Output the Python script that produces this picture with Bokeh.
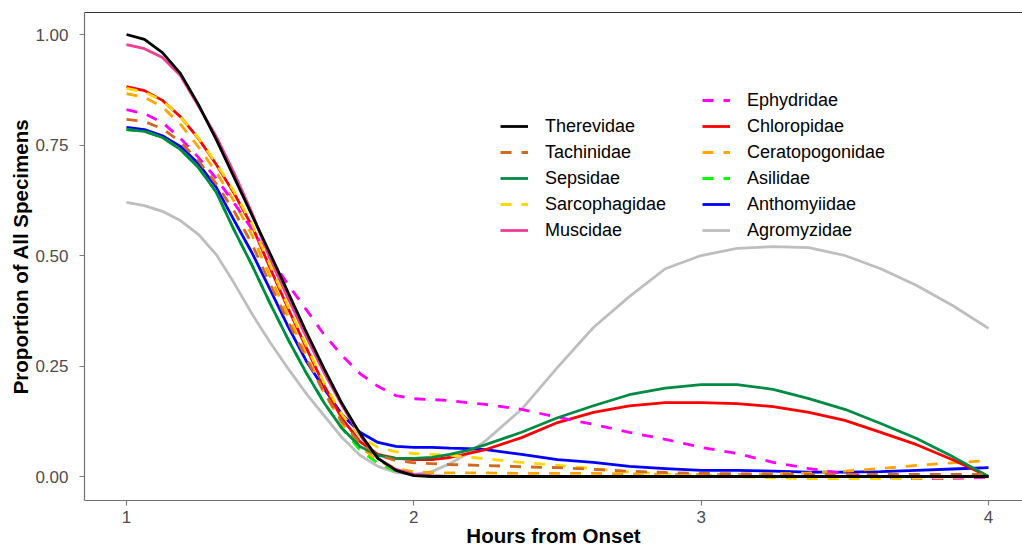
from bokeh.plotting import figure
from bokeh.models import Range1d, Legend, LegendItem, FixedTicker, LinearAxis
from bokeh.embed import file_html
from bokeh.resources import INLINE

# ---- data (hours vs proportion) ----
hours = [1.0, 1.0625, 1.125, 1.1875, 1.25, 1.3125, 1.375, 1.4375, 1.5, 1.5625,
         1.625, 1.6875, 1.75, 1.8125, 1.875, 1.9375, 2.0, 2.0625, 2.125, 2.1875,
         2.25, 2.375, 2.5, 2.625, 2.75, 2.875, 3.0, 3.125, 3.25, 3.375,
         3.5, 3.625, 3.75, 3.875, 4.0]

agromyzidae = [0.620, 0.613, 0.600, 0.579, 0.548, 0.502, 0.437, 0.367, 0.303, 0.244,
               0.188, 0.138, 0.088, 0.048, 0.023, 0.009, 0.005, 0.011, 0.029, 0.052,
               0.081, 0.152, 0.247, 0.337, 0.407, 0.470, 0.500, 0.516, 0.520, 0.518,
               0.500, 0.470, 0.432, 0.387, 0.335]
anthomyiidae = [0.790, 0.785, 0.771, 0.747, 0.708, 0.654, 0.579, 0.505, 0.423, 0.339,
                0.262, 0.199, 0.140, 0.100, 0.077, 0.068, 0.066, 0.066, 0.064, 0.063,
                0.061, 0.050, 0.038, 0.032, 0.023, 0.018, 0.014, 0.014, 0.012, 0.010,
                0.010, 0.011, 0.014, 0.017, 0.020]
asilidae = [0.785, 0.781, 0.767, 0.740, 0.699, 0.643, 0.557, 0.477, 0.391, 0.310,
            0.235, 0.167, 0.109, 0.060, 0.030, 0.012, 0.003, 0.0, 0.0, 0.0,
            0.0, 0.0, 0.0, 0.0, 0.0, 0.0, 0.0, 0.0, 0.0, 0.0,
            0.0, 0.0, 0.0, 0.0, 0.0]
ceratopogonidae = [0.866, 0.858, 0.836, 0.797, 0.746, 0.688, 0.622, 0.545, 0.452, 0.362,
                   0.275, 0.190, 0.120, 0.068, 0.036, 0.018, 0.011, 0.009, 0.008, 0.008,
                   0.008, 0.007, 0.007, 0.007, 0.006, 0.005, 0.005, 0.005, 0.006, 0.008,
                   0.012, 0.018, 0.025, 0.031, 0.036]
chloropidae = [0.882, 0.873, 0.851, 0.814, 0.765, 0.706, 0.640, 0.566, 0.471, 0.380,
               0.292, 0.206, 0.131, 0.079, 0.050, 0.041, 0.038, 0.038, 0.043, 0.052,
               0.061, 0.088, 0.122, 0.145, 0.160, 0.167, 0.167, 0.165, 0.158, 0.145,
               0.127, 0.100, 0.072, 0.038, 0.0]
ephydridae = [0.830, 0.821, 0.801, 0.765, 0.722, 0.674, 0.618, 0.559, 0.495, 0.434,
              0.378, 0.321, 0.274, 0.233, 0.204, 0.183, 0.176, 0.174, 0.172, 0.167,
              0.163, 0.152, 0.134, 0.118, 0.100, 0.084, 0.066, 0.052, 0.032, 0.018,
              0.007, -0.002, -0.005, -0.004, -0.002]
muscidae = [0.977, 0.968, 0.948, 0.907, 0.839, 0.769, 0.686, 0.595, 0.492, 0.403,
            0.317, 0.235, 0.161, 0.093, 0.041, 0.016, 0.005, 0.002, 0.0, 0.0,
            0.0, 0.0, 0.0, 0.0, 0.0, 0.0, 0.0, 0.0, 0.0, 0.0,
            0.0, 0.0, 0.0, 0.0, 0.0]
sarcophagidae = [0.878, 0.870, 0.850, 0.814, 0.766, 0.708, 0.644, 0.570, 0.478, 0.385,
                 0.298, 0.212, 0.140, 0.092, 0.066, 0.056, 0.052, 0.050, 0.048, 0.044,
                 0.040, 0.032, 0.025, 0.018, 0.010, 0.006, 0.003, 0.0, -0.003, -0.005,
                 -0.005, -0.005, -0.004, -0.002, 0.0]
sepsidae = [0.785, 0.781, 0.767, 0.740, 0.699, 0.643, 0.557, 0.477, 0.391, 0.310,
            0.235, 0.167, 0.109, 0.068, 0.048, 0.041, 0.041, 0.043, 0.050, 0.059,
            0.072, 0.100, 0.133, 0.160, 0.185, 0.200, 0.208, 0.208, 0.197, 0.176,
            0.152, 0.120, 0.086, 0.045, 0.0]
tachinidae = [0.808, 0.803, 0.787, 0.757, 0.715, 0.662, 0.600, 0.525, 0.435, 0.350,
              0.268, 0.190, 0.124, 0.076, 0.048, 0.036, 0.031, 0.029, 0.027, 0.026,
              0.025, 0.022, 0.020, 0.016, 0.012, 0.009, 0.007, 0.006, 0.006, 0.005,
              0.005, 0.005, 0.005, 0.005, 0.005]
therevidae = [1.000, 0.989, 0.959, 0.912, 0.842, 0.762, 0.676, 0.590, 0.504, 0.416,
              0.328, 0.244, 0.165, 0.097, 0.041, 0.014, 0.002, 0.0, 0.0, 0.0,
              0.0, 0.0, 0.0, 0.0, 0.0, 0.0, 0.0, 0.0, 0.0, 0.0,
              0.0, 0.0, 0.0, 0.0, 0.0]

x_ticks = [1, 2, 3, 4]
y_ticks = [0.0, 0.25, 0.5, 0.75, 1.0]
y_tick_labels = {0.0: "0.00", 0.25: "0.25", 0.5: "0.50", 0.75: "0.75", 1.0: "1.00"}

# name, values, colour, dashed  (drawn in alphabetical order)
series = [
    ("Agromyzidae", agromyzidae, "#BEBEBE", False),
    ("Anthomyiidae", anthomyiidae, "#0000FF", False),
    ("Asilidae", asilidae, "#00FF00", True),
    ("Ceratopogonidae", ceratopogonidae, "#FFA500", True),
    ("Chloropidae", chloropidae, "#FF0000", False),
    ("Ephydridae", ephydridae, "#FF00FF", True),
    ("Muscidae", muscidae, "#F03C96", False),
    ("Sarcophagidae", sarcophagidae, "#FFD700", True),
    ("Sepsidae", sepsidae, "#008B45", False),
    ("Tachinidae", tachinidae, "#D2691E", True),
    ("Therevidae", therevidae, "#000000", False),
]

FONT = "Liberation Sans"

p = figure(width=1022, height=549, output_backend="svg", toolbar_location=None,
           x_range=Range1d(0.8538, 4.1183), y_range=Range1d(-0.0543, 1.0498))
p.min_border_left = 84
p.min_border_right = 0
p.min_border_top = 12
p.min_border_bottom = 49

p.xgrid.visible = False
p.ygrid.visible = False
p.outline_line_color = None
p.background_fill_color = "white"

renderers = {}
for name, vals, col, dashed in series:
    r = p.line(hours, vals, line_color=col, line_width=2.8,
               line_dash="11 10" if dashed else "solid", line_join="round")
    renderers[name] = r

for ax in (p.xaxis[0], p.yaxis[0]):
    ax.axis_line_color = "#707070"
    ax.axis_line_width = 1.2
    ax.major_tick_line_color = "#7F7F7F"
    ax.major_tick_line_width = 1.2
    ax.major_tick_out = 5
    ax.major_tick_in = 0
    ax.minor_tick_line_color = None
    ax.major_label_text_font = FONT
    ax.major_label_text_font_size = "17px"
    ax.major_label_text_color = "#4D4D4D"
    ax.axis_label_text_font = FONT
    ax.axis_label_text_font_size = "20.5px"
    ax.axis_label_text_font_style = "bold"
    ax.axis_label_text_color = "#000000"

p.xaxis[0].ticker = FixedTicker(ticks=x_ticks)
p.yaxis[0].ticker = FixedTicker(ticks=y_ticks)
p.yaxis[0].major_label_overrides = y_tick_labels
p.xaxis[0].major_label_standoff = 5
p.xaxis[0].axis_label_standoff = -2
p.yaxis[0].major_label_standoff = 11
p.yaxis[0].axis_label_standoff = 0
p.xaxis.axis_label = "Hours from Onset"
p.yaxis.axis_label = "Proportion of All Specimens"

# top border of the panel (right border lies beyond the picture)
top_ax = LinearAxis(ticker=FixedTicker(ticks=[]), axis_line_color="#333333",
                    axis_line_width=1.2, major_tick_line_color=None,
                    minor_tick_line_color=None, major_label_text_font_size="0px")
p.add_layout(top_ax, "above")

col1 = ["Therevidae", "Tachinidae", "Sepsidae", "Sarcophagidae", "Muscidae"]
col2 = ["Ephydridae", "Chloropidae", "Ceratopogonidae", "Asilidae", "Anthomyiidae", "Agromyzidae"]


def make_legend(names, loc):
    lg = Legend(items=[LegendItem(label=n, renderers=[renderers[n]]) for n in names],
                location=loc, orientation="vertical")
    lg.padding = 0
    lg.margin = 0
    lg.spacing = 0
    lg.glyph_width = 28
    lg.glyph_height = 26
    lg.label_height = 26
    lg.label_standoff = 17
    lg.label_text_font = FONT
    lg.label_text_font_size = "18px"
    lg.label_text_color = "#000000"
    lg.border_line_color = None
    lg.background_fill_alpha = 0
    return lg


p.add_layout(make_legend(col1, (416, 257)), "center")
p.add_layout(make_legend(col2, (618, 257)), "center")

open("out.html", "w").write(file_html(p, INLINE))
